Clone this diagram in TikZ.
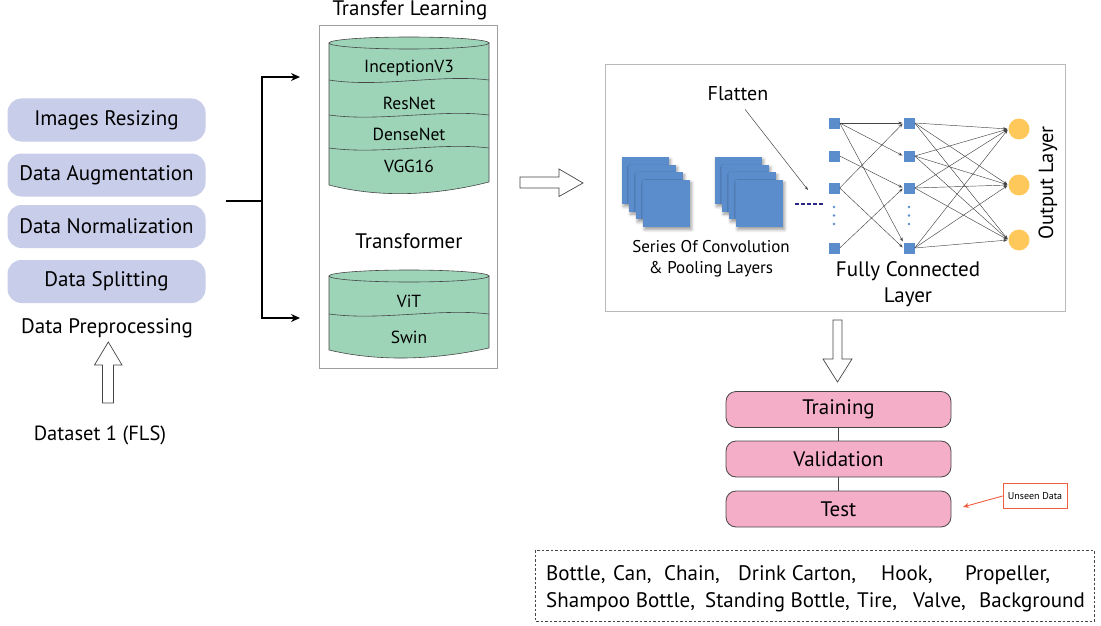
\documentclass[tikz,border=0pt]{standalone}
\usepackage{fontspec}
\setmainfont{PT Sans}
\usetikzlibrary{arrows.meta,shadows.blur}

\definecolor{prepfill}{RGB}{200,205,233}
\definecolor{cylfill}{RGB}{157,212,184}
\definecolor{netblue}{RGB}{91,141,204}
\definecolor{outyel}{RGB}{255,200,90}
\definecolor{stagefill}{RGB}{245,174,200}
\definecolor{coral}{RGB}{240,95,65}
\definecolor{edgegray}{RGB}{70,70,70}
\definecolor{navy}{RGB}{40,40,130}

\newcommand\fsz[1]{\fontsize{#1}{#1}\selectfont}

\begin{document}
\begin{tikzpicture}[x=1pt,y=-1pt,
  prep/.style={rectangle, rounded corners=14pt, fill=prepfill, minimum width=198pt, minimum height=43pt, inner sep=0pt, font=\fsz{21}},
  lbl/.style={inner sep=0pt, font=\fsz{21}},
  cyllbl/.style={inner sep=0pt, font=\fsz{17.5}},
  cyl/.style={fill=cylfill, draw=edgegray, line width=0.6pt},
  hollow/.style={draw=edgegray, fill=white, line width=0.7pt},
  conv/.style={fill=netblue, draw=none, blur shadow={shadow xshift=1.5pt, shadow yshift=-2.5pt, shadow blur steps=6, shadow blur radius=3pt, shadow opacity=40}},
  fcsq/.style={rectangle, fill=netblue, minimum size=11pt, inner sep=0pt},
  outc/.style={circle, fill=outyel, minimum size=21pt, inner sep=0pt},
  fcedge/.style={draw=edgegray, line width=0.45pt, -{Stealth[length=4pt,width=3pt]}, shorten >=1pt},
  stagebox/.style={rectangle, rounded corners=10pt, draw=edgegray, line width=0.8pt, fill=stagefill, minimum width=225pt, minimum height=36pt, inner sep=0pt, font=\fsz{21}},
  word/.style={anchor=base west, inner sep=0pt, font=\fsz{21}}
]
\useasboundingbox (0,0) rectangle (1101,626);

% ---------- data preprocessing ----------
\node[prep] (resize) at (106.5,120) {Images Resizing};
\node[prep] (augment) at (106.5,175) {Data Augmentation};
\node[prep] (normal) at (106.5,226.5) {Data Normalization};
\node[prep] (splitting) at (106.5,281.5) {Data Splitting};
\node[lbl] (prepro) at (107,328) {Data Preprocessing};
\node[lbl, font=\fsz{20.5}] (dataset) at (100,435) {Dataset 1 (FLS)};
\draw[hollow] (102.5,403) -- (113.5,403) -- (113.5,365) -- (122,365) -- (108.3,342)
  -- (94.5,365) -- (102.5,365) -- cycle;

% ---------- fork towards the models ----------
\coordinate (fork) at (262,201);
\coordinate (tlin) at (300,77);
\coordinate (trin) at (300,318);
\draw[line width=1.3pt] (fork) -- ++(-36,0);
\draw[line width=1.3pt, -{Stealth[length=9pt,width=8pt]}] (fork) |- (tlin);
\draw[line width=1.3pt, -{Stealth[length=9pt,width=8pt]}] (fork) |- (trin);

% ---------- model column ----------
\node[draw=gray!75, line width=0.8pt, minimum width=178pt, minimum height=343pt, inner sep=0pt] (models) at (408.5,196.5) {};
\node[inner sep=0pt, font=\fsz{21}] (tltitle) at (410,10) {Transfer Learning};

% CNN backbone cylinder
\path[cyl] (329,43) -- (329,185) .. controls (375,197) and (430,197) .. (489,182) -- (489,43) -- cycle;
\draw[cyl] (409,43) ellipse [x radius=80, y radius=6];
\draw[edgegray, line width=0.6pt] (329,80) .. controls (380,88) and (440,74) .. (489,80);
\draw[edgegray, line width=0.6pt] (329,115) .. controls (380,122) and (440,109) .. (489,115);
\draw[edgegray, line width=0.6pt] (329,148) .. controls (380,155) and (440,142) .. (489,148);
\node[cyllbl] (incep) at (409,68) {InceptionV3};
\node[cyllbl] (resnet) at (409,103) {ResNet};
\node[cyllbl] (dense) at (409,134) {DenseNet};
\node[cyllbl] (vgg) at (409,166) {VGG16};

\node[inner sep=0pt, font=\fsz{21}] (trtitle) at (409,241) {Transformer};

% transformer cylinder
\path[cyl] (329,276) -- (329,350) .. controls (375,361) and (430,361) .. (489,348) -- (489,276) -- cycle;
\draw[cyl] (409,276) ellipse [x radius=80, y radius=6];
\draw[edgegray, line width=0.6pt] (329,314) .. controls (380,321) and (440,308) .. (489,314);
\node[cyllbl] (vit) at (409,301) {ViT};
\node[cyllbl] (swin) at (409,337) {Swin};

% hollow arrow to the network
\draw[hollow] (520,177) -- (559,177) -- (559,169) -- (583,183) -- (559,196.5) -- (559,188)
  -- (520,188) -- cycle;

% ---------- network panel ----------
\node[draw=gray!55, line width=1pt, minimum width=460pt, minimum height=246pt, inner sep=0pt] (panel) at (835,188) {};

% feature map stacks
\foreach \i in {0,1,2,3} {
  \fill[conv] (622+7*\i,157+7.7*\i) rectangle ++(47,47);
}
\foreach \i in {0,1,2,3} {
  \fill[conv] (715+7*\i,157+7.7*\i) rectangle ++(47,47);
}
\node[inner sep=0pt, font=\fsz{17}, align=center] (convlbl) at (711,259) {Series Of Convolution\\[4pt]\& Pooling Layers};

\node[inner sep=0pt, font=\fsz{20}] (flatten) at (738,94) {Flatten};
\coordinate (flatpt) at (808,190);
\draw[edgegray, line width=0.5pt, -{Stealth[length=4pt,width=3pt]}] ([xshift=7pt,yshift=-8pt]flatten.south) -- (flatpt);
\coordinate (dashs) at (795,204);
\coordinate (dashe) at (824,204);
\draw[navy, line width=1.3pt, dash pattern=on 3.5pt off 2.5pt] (dashs) -- (dashe);

% fully connected layers
\node[fcsq] (a1) at (834,123) {};
\node[fcsq] (a2) at (834,156) {};
\node[fcsq] (a3) at (834,188) {};
\node[fcsq] (a4) at (834,248) {};
\node[fcsq] (b1) at (909,123) {};
\node[fcsq] (b2) at (909,156) {};
\node[fcsq] (b3) at (909,188) {};
\node[fcsq] (b4) at (909,248) {};
\foreach \yy in {207,215.5,224} {
  \fill[netblue] (834,\yy) circle (1.3);
  \fill[netblue] (909,\yy) circle (1.3);
}
\node[outc] (o1) at (1019,129) {};
\node[outc] (o2) at (1019,185) {};
\node[outc] (o3) at (1019,240) {};

\draw[fcedge] (a1.east) -- (b1.west);
\draw[fcedge] (a1.east) -- (b2.west);
\draw[fcedge] (a1.east) -- (b4.north west);
\draw[fcedge] (a2.east) -- (b3.west);
\draw[fcedge] (a3.east) -- (b1.west);
\draw[fcedge] (a3.east) -- (b4.west);
\draw[fcedge] (a4.east) -- (b3.west);
\foreach \b in {b1,b2,b3,b4} {
  \foreach \o in {o1,o2,o3} {
    \draw[fcedge] (\b.east) -- (\o.west);
  }
}

\node[inner sep=0pt, font=\fsz{21}, align=center] (fclbl) at (908,284) {Fully Connected\\[5pt]Layer};
\node[inner sep=0pt, font=\fsz{20.5}, rotate=90] (outlbl) at (1048,183) {Output Layer};

% hollow arrow down to the stages
\draw[hollow] (833,320) -- (842,320) -- (842,359) -- (852,359) -- (837.5,382) -- (823,359)
  -- (833,359) -- cycle;

% ---------- training stages ----------
\node[stagebox] (train) at (838.5,409.5) {Training};
\node[stagebox] (valid) at (838.5,459) {Validation};
\node[stagebox] (test) at (838.5,509) {Test};
\draw[edgegray, line width=1.2pt] (train) -- (valid);
\draw[edgegray, line width=1.2pt] (valid) -- (test);

\node[draw=coral, line width=0.8pt, fill=white, minimum width=64pt, minimum height=25pt, inner sep=0pt, font=\fsz{10}] (unseen) at (1035,496) {Unseen Data};
\coordinate (unseenpt) at (963,507);
\draw[coral, line width=0.9pt, -{Stealth[length=6pt,width=5pt]}] (unseen.west) -- (unseenpt);

% ---------- class list ----------
\draw[edgegray, line width=0.7pt, dash pattern=on 2.5pt off 2pt] (535,550) rectangle (1094,621);
\node[word] (w1) at (546,580) {Bottle,};
\node[word] (w2) at (613,580) {Can,};
\node[word] (w3) at (664,580) {Chain,};
\node[word] (w4) at (738,580) {Drink Carton,};
\node[word] (w5) at (881,580) {Hook,};
\node[word] (w6) at (965,580) {Propeller,};
\node[word] (w7) at (546,607) {Shampoo Bottle,};
\node[word] (w8) at (705,607) {Standing Bottle,};
\node[word] (w9) at (857,607) {Tire,};
\node[word] (w10) at (913,607) {Valve,};
\node[word] (w11) at (979,607) {Background};
\end{tikzpicture}
\end{document}
